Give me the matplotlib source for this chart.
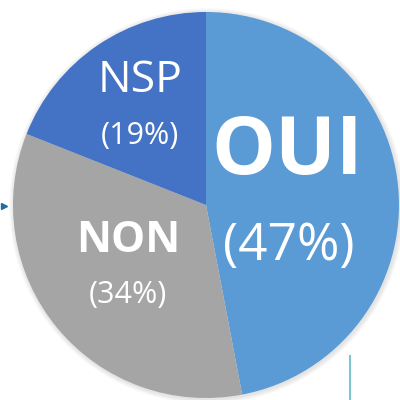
import matplotlib
matplotlib.use("Agg")
import matplotlib.pyplot as plt

labels = ["OUI", "NON", "NSP"]
values = [47, 34, 19]
pct_labels = ["(47%)", "(34%)", "(19%)"]
colors = ["#5B9BD5", "#A5A5A5", "#4472C4"]

fig = plt.figure(figsize=(4, 4), dpi=100)
ax = fig.add_axes([0, 0, 1, 1])

cx, cy, r = 206, 195, 193

# soft shadow glow
for i in range(4):
    c = plt.Circle((cx + 1, cy - 1), r + 1 + i * 1.2, color="#7a7a7a", alpha=0.05, lw=0, zorder=0)
    ax.add_patch(c)

ax.pie(values, colors=colors, startangle=90, counterclock=False,
       center=(cx, cy), radius=r, frame=True,
       wedgeprops=dict(linewidth=0))
ax.set_xlim(0, 400)
ax.set_ylim(0, 400)
ax.set_aspect("equal")
ax.axis("off")

fam = ["Open Sans", "DejaVu Sans"]
ax.text(287, 400 - 153, labels[0], fontsize=58, fontweight="bold", color="white",
        ha="center", va="center", family=fam)
ax.text(289, 400 - 247, pct_labels[0], fontsize=37, color="white",
        ha="center", va="center", family=fam)
ax.text(128, 400 - 241, labels[1], fontsize=31, fontweight="bold", color="white",
        ha="center", va="center", family=fam)
ax.text(128, 400 - 295, pct_labels[1], fontsize=22, color="white",
        ha="center", va="center", family=fam)
ax.text(140, 400 - 81, labels[2], fontsize=32, color="white",
        ha="center", va="center", family=fam)
ax.text(140, 400 - 136, pct_labels[2], fontsize=22, color="white",
        ha="center", va="center", family=fam)

# small decorations
ax.plot([350, 350], [400 - 356, 0], color="#7cc6cf", lw=1.5, zorder=5)
ax.plot([4], [400 - 206], marker=">", color="#1f6fa0", markersize=5, zorder=5)

fig.savefig("out.png", dpi=100)
